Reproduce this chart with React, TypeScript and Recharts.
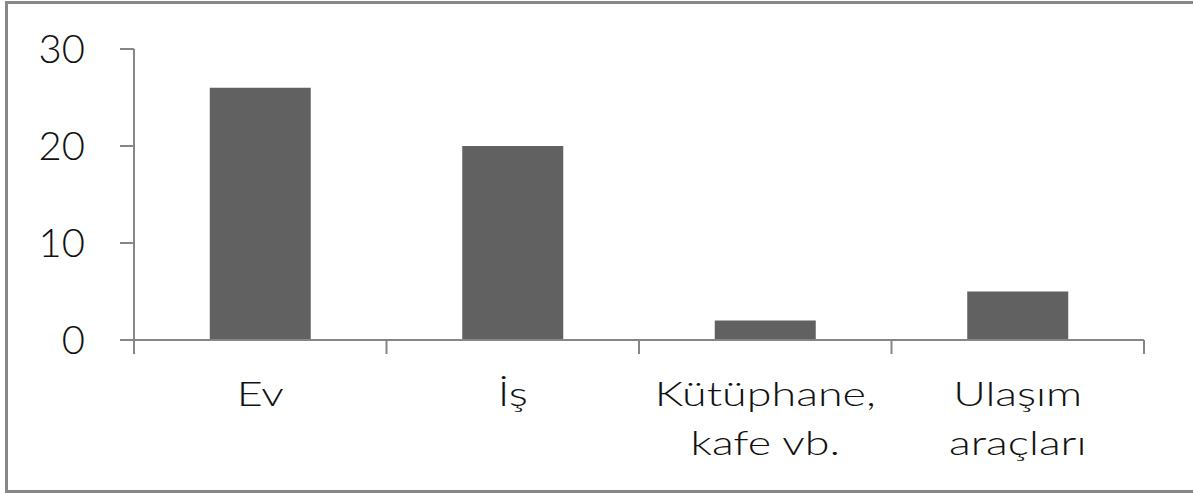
import { Bar, BarChart, XAxis, YAxis } from "recharts";

const categories = ["Ev", "İş", "Kütüphane,\nkafe vb.", "Ulaşım\naraçları"];
const values = [26, 20, 2, 5];
const yTicks = [0, 10, 20, 30];

const data = categories.map((name, i) => ({ name, value: values[i] }));

const axisColor = "#868686";

const CategoryTick = (props: any) => {
    const { x, y, payload, index } = props;
    const half = payload && payload.offset ? payload.offset : (1193 - 49 - 134) / categories.length / 2;
    const lines = String(payload.value).split("\n");
    const last = index === categories.length - 1;
    return (
        <g>
            <line x1={x - half} x2={x - half} y1={y} y2={y + 14} stroke={axisColor} strokeWidth={2} />
            {last && <line x1={x + half} x2={x + half} y1={y} y2={y + 14} stroke={axisColor} strokeWidth={2} />}
            <text
                transform={`translate(${x},${y}) scale(1.32,1)`}
                textAnchor="middle"
                fontFamily="Lato"
                fontWeight={300}
                fontSize={34}
                fill="#111"
            >
                {lines.map((l, i) => (
                    <tspan key={i} x={0} y={66 + i * 49}>{l}</tspan>
                ))}
            </text>
        </g>
    );
};

const App = () => {
    return (
        <div>
            <div
                style={{
                    position: "absolute",
                    left: 5,
                    top: 1,
                    width: 1200,
                    height: 492,
                    border: "3px solid #878787",
                    boxSizing: "border-box",
                }}
            />
            <div style={{ position: "absolute", left: 0, top: 0 }}>
                <BarChart
                    width={1193}
                    height={493}
                    data={data}
                    margin={{ top: 49, right: 49, bottom: 53, left: 34 }}
                    barCategoryGap="30%"
                >
                    <XAxis
                        dataKey="name"
                        interval={0}
                        height={100}
                        tickLine={false}
                        tickSize={0}
                        tickMargin={0}
                        axisLine={{ stroke: axisColor, strokeWidth: 2 }}
                        tick={<CategoryTick />}
                    />
                    <YAxis
                        width={100}
                        domain={[0, 30]}
                        ticks={yTicks}
                        interval={0}
                        tickSize={14}
                        tickMargin={35}
                        axisLine={{ stroke: axisColor, strokeWidth: 2 }}
                        tickLine={{ stroke: axisColor, strokeWidth: 2 }}
                        tick={{ fontFamily: "Lato", fontWeight: 300, fontSize: 40, fill: "#111" }}
                    />
                    <Bar dataKey="value" fill="#616161" isAnimationActive={false} />
                </BarChart>
            </div>
        </div>
    );
};

export default App;
